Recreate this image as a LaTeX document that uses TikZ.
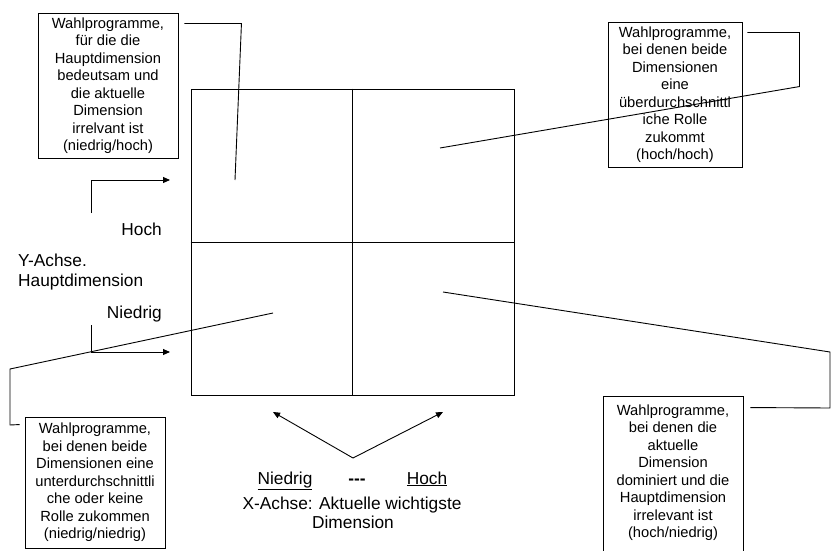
\documentclass[tikz,border=0pt]{standalone}
\usepackage{fontspec}
\setmainfont{Liberation Sans}
\usetikzlibrary{arrows.meta,calc}
\begin{document}
\begin{tikzpicture}[x=1pt,y=-1pt,
  every node/.style={font=\fontsize{14.7}{17.5}\selectfont, inner sep=0pt},
  axislabel/.style={font=\fontsize{17.3}{20}\selectfont},
  textbox/.style={draw, line width=0.9pt, align=center},
  ln/.style={line width=0.9pt},
  arr/.style={ln,-{Triangle[length=7pt,width=6pt]}}]
\clip (0,0) rectangle (832,551);
% grid
\node[draw, line width=0.9pt, minimum width=323pt, minimum height=306pt] (grid) at (352.5,242) {};
\draw[ln] (grid.north) -- (grid.south);
\draw[ln] (grid.west) -- (grid.east);
% boxes
\node[textbox, minimum width=140pt, minimum height=145pt] (tl) at (108,85.5)
 {Wahlprogramme,\\ für die die\\ Hauptdimension\\ bedeutsam und\\ die aktuelle\\ Dimension\\ irrelvant ist\\ (niedrig/hoch)};
\node[textbox, minimum width=134pt, minimum height=145pt] (tr) at (675,94.5)
 {Wahlprogramme,\\ bei denen beide\\ Dimensionen\\ eine\\ überdurchschnittl\\ iche Rolle\\ zukommt\\ (hoch/hoch)};
\node[textbox, minimum width=140pt, minimum height=131pt] (bl) at (95,482.5)
 {Wahlprogramme,\\ bei denen beide\\ Dimensionen eine\\ unterdurchschnittli\\ che oder keine\\ Rolle zukommen\\ (niedrig/niedrig)};
\node[textbox, minimum width=140pt, minimum height=168pt] (br) at (673,480)
 {Wahlprogramme,\\ bei denen die\\ aktuelle\\ Dimension\\ dominiert und die\\ Hauptdimension\\ irrelevant ist\\ (hoch/niedrig)\\ ~};
% quadrant points
\coordinate (qtl) at (235,180);
\coordinate (qtr) at (440,148);
\coordinate (qbl) at (273,313);
\coordinate (qbr) at (443,292);
% leaders
\draw[ln] ($(tl.north east)+(6,11)$) -- ++(57,0) -- (qtl);
\draw[ln] ($(tr.north east)+(5,11)$) -- ++(52,0) |- ++(0,54) -- (qtr);
\draw[ln] ($(bl.north west)+(-5,8)$) -- (10,425) -- (10,369) -- (qbl);
\draw[ln] ($(br.north east)+(7,12)$) -- (830,408) -- (830,352) -- (qbr);
% axis arrows
\coordinate (ua) at (91,213);
\coordinate (la) at (91,325);
\coordinate (apex) at (353,458);
\draw[arr] (ua) -- (91,180) -- (170,180);
\draw[arr] (la) -- (91,352) -- (170,352);
\draw[arr] (apex) -- (273,412);
\draw[arr] (apex) -- (443,412);
% labels
\node[axislabel, anchor=base east] (yhoch) at (162,235) {Hoch};
\node[axislabel, anchor=base west] (yachse) at (18,266) {Y-Achse.};
\node[axislabel, anchor=base west] (ydim) at (18,286) {Hauptdimension};
\node[axislabel, anchor=base east] (yniedrig) at (162,318) {Niedrig};
\node[axislabel, anchor=base] (xniedrig) at (285,484) {\underline{Niedrig}};
\node[axislabel, anchor=base] (xdash) at (357,484) {\textbf{-{}-{}-}};
\node[axislabel, anchor=base] (xhoch) at (427,484) {\underline{Hoch}};
\node[axislabel, anchor=base] (xachse) at (352,509) {X-Achse: Aktuelle wichtigste};
\node[axislabel, anchor=base] (xdim) at (353,528) {Dimension};
\end{tikzpicture}
\end{document}
